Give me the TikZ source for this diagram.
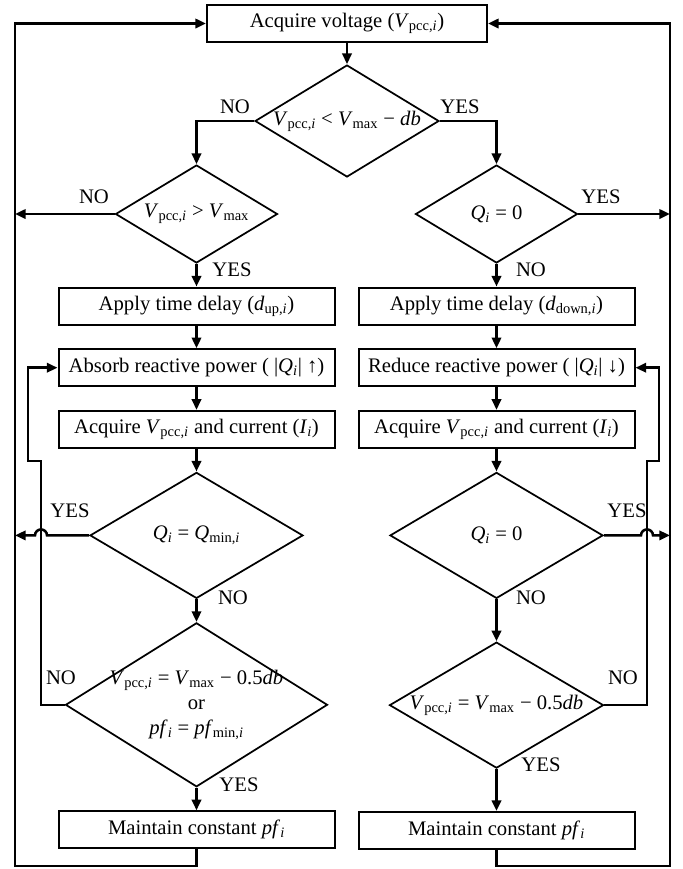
\documentclass[tikz,border=0pt]{standalone}
\usepackage{fontspec}
\setmainfont{Liberation Serif}
\usetikzlibrary{arrows.meta,calc,positioning,shapes.geometric}
\newcommand{\fsz}{\fontsize{15.5}{17}\selectfont}
\newcommand{\Vp}{\textit{V}\textsubscript{pcc,\textit{i}}}
\newcommand{\Vmax}{\textit{V}\textsubscript{max}}
\newcommand{\Qi}{\textit{Q}\textsubscript{\textit{i}}}
\newcommand{\pfi}{\textit{pf}\textsubscript{\textit{i}}}
\tikzset{
  proc/.style={rectangle,draw,line width=1.5pt,minimum width=207pt,minimum height=27.75pt,
    inner sep=1pt,font=\fsz},
  topproc/.style={proc,minimum width=210pt},
  decision/.style={diamond,draw,line width=1.3pt,inner sep=0pt},
  dtext/.style={font=\fsz,align=center,inner sep=0pt},
  lbl/.style={font=\fsz,inner sep=0pt},
  arrow/.style={-{Triangle[length=8pt,width=7pt]},line width=1.9pt}
}

\begin{document}
\begin{tikzpicture}[x=0.75pt,y=0.75pt,node distance=17pt]
\useasboundingbox (0,0) rectangle (683,-869);

\node[topproc] (top) at (347,-23.5) {Acquire voltage (\Vp)};
\node[decision,minimum width=138pt,minimum height=84pt] (d1) at (347,-121) {};
\node[dtext] (t1) at (d1) {\Vp{} < \Vmax{} − \textit{db}};

% left column
\node[decision,minimum width=121.5pt,minimum height=73.5pt] (d2) at (196.5,-214) {};
\node[dtext] (t2) at (d2) {\Vp{} > \Vmax};
\node[proc,below=of d2] (apL) {Apply time delay (\textit{d}\textsubscript{up,\textit{i}})};
\node[proc,below=of apL] (abL) {Absorb reactive power ( |\Qi| ↑)};
\node[proc,below=of abL] (acL) {Acquire \Vp{} and current (\textit{I}\textsubscript{\textit{i}})};
\node[decision,minimum width=159.75pt,minimum height=94.5pt,below=of acL] (d4) {};
\node[dtext] (t4) at (d4) {\Qi{} = \textit{Q}\textsubscript{min,\textit{i}}};
\node[decision,minimum width=196.5pt,minimum height=123pt,below=of d4] (d5) {};
\node[dtext] (t5) at (d5)
  {\Vp{} = \Vmax{} − 0.5\textit{db}\\[1.5pt]or\\[1.5pt]\pfi{} = \textit{pf}\textsubscript{min,\textit{i}}};
\node[proc,below=of d5] (mL) {Maintain constant \pfi};

% right column
\node[decision,minimum width=121.5pt,minimum height=73.5pt] (d3) at (496.5,-214) {};
\node[dtext] (t3) at (d3) {\Qi{} = 0};
\node[proc,below=of d3] (apR) {Apply time delay (\textit{d}\textsubscript{down,\textit{i}})};
\node[proc,below=of apR] (rdR) {Reduce reactive power ( |\Qi| ↓)};
\node[proc,below=of rdR] (acR) {Acquire \Vp{} and current (\textit{I}\textsubscript{\textit{i}})};
\node[decision,minimum width=159.75pt,minimum height=94.5pt,below=of acR] (d6) {};
\node[dtext] (t6) at (d6) {\Qi{} = 0};
\node[decision,minimum width=160.5pt,minimum height=94.5pt,below=31.5pt of d6] (d7) {};
\node[dtext] (t7) at (d7) {\Vp{} = \Vmax{} − 0.5\textit{db}};
\node[proc,below=31.5pt of d7] (mR) {Maintain constant \pfi};

% branch labels
\node[lbl] (no1) at (235,-107) {NO};
\node[lbl] (yes1) at (460,-107) {YES};
\node[lbl] (no2) at (94,-197) {NO};
\node[lbl] (yes2) at (232,-270) {YES};
\node[lbl] (yes3) at (601,-197) {YES};
\node[lbl] (no3) at (531,-270) {NO};
\node[lbl] (yes4) at (70,-511) {YES};
\node[lbl] (no4) at (233,-598) {NO};
\node[lbl] (no5) at (61,-678) {NO};
\node[lbl] (yes5) at (239,-785) {YES};
\node[lbl] (yes6) at (627,-511) {YES};
\node[lbl] (no6) at (531,-598) {NO};
\node[lbl] (no7) at (623,-678) {NO};
\node[lbl] (yes7) at (541,-765) {YES};

% loop corners and feedback jogs
\coordinate (loopL) at (15,-866);
\coordinate (loopR) at (670,-866);
\coordinate (jogL) at (41,-461);
\coordinate (fbL) at (28,-461);
\coordinate (jogR) at (647,-461);
\coordinate (fbR) at (659,-461);

\draw[arrow] (top) -- (d1);
\draw[arrow] (d1.west) -| (d2.north);
\draw[arrow] (d1.east) -| (d3.north);
\draw[arrow] (d2) -- (apL);
\draw[arrow] (apL) -- (abL);
\draw[arrow] (abL) -- (acL);
\draw[arrow] (acL) -- (d4);
\draw[arrow] (d4) -- (d5);
\draw[arrow] (d5) -- (mL);
\draw[arrow] (d3) -- (apR);
\draw[arrow] (apR) -- (rdR);
\draw[arrow] (rdR) -- (acR);
\draw[arrow] (acR) -- (d6);
\draw[arrow] (d6) -- (d7);
\draw[arrow] (d7) -- (mR);

\draw[arrow] (d2.west) -- (d2.west -| loopL);
\draw[arrow] (d3.east) -- (d3.east -| loopR);
\draw[arrow] (mL.south) |- (loopL) |- (top.west);
\draw[arrow] (mR.south) |- (loopR) |- (top.east);

\draw[arrow] (d5.west) -| (jogL) -- (fbL) |- (abL.west);
\draw[arrow] (d7.east) -| (jogR) -- (fbR) |- (rdR.east);

\draw[arrow] (d4.west) -- ($(d4.west -| jogL)+(6,0)$)
  arc[start angle=0,end angle=180,radius=4.5pt] -- (d4.west -| loopL);
\draw[arrow] (d6.east) -- ($(d6.east -| jogR)+(-6,0)$)
  arc[start angle=180,end angle=0,radius=4.5pt] -- (d6.east -| loopR);
\end{tikzpicture}
\end{document}
